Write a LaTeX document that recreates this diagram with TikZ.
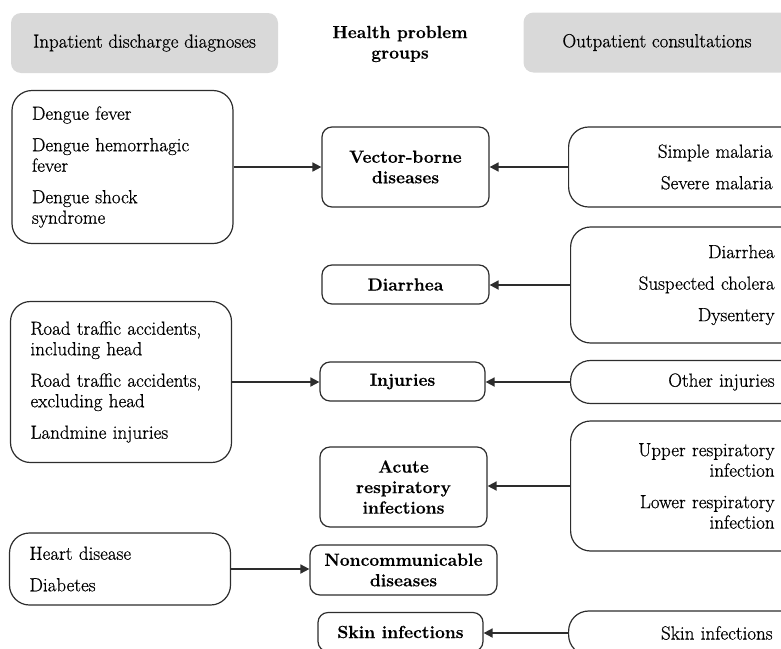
\documentclass[tikz,border=0pt]{standalone}
\usepackage{fontspec}
\usetikzlibrary{arrows.meta}
\newfontfamily\bodyfont{Latin Modern Roman}[FakeBold=0.6]
\newfontfamily\groupfont{Latin Modern Roman}[FakeBold=0.5]
\definecolor{headgray}{RGB}{217,217,217}
\definecolor{linegray}{RGB}{45,45,45}
\begin{document}
\begin{tikzpicture}[x=1pt,y=-1pt,
        font=\bodyfont\fontsize{19}{20.5}\selectfont,
        head/.style={fill=headgray,rounded corners=10pt,minimum width=267pt,minimum height=60pt,inner sep=0pt},
        leftbox/.style={draw=linegray,line width=1.2pt,rounded corners=20pt,align=left,
            text width=181pt,inner xsep=20pt,inner ysep=0pt,minimum width=221pt},
        rightbox/.style={draw=linegray,line width=1.2pt,rounded corners=20pt,align=right,
            text width=176pt,inner xsep=28pt,inner ysep=0pt,anchor=west},
        group/.style={draw=linegray,line width=1.2pt,rounded corners=10pt,align=center,
            font=\groupfont\fontsize{17.5}{20.5}\selectfont\bfseries,inner xsep=4pt,inner ysep=0pt},
        link/.style={draw=linegray,line width=1.7pt,-{Triangle[length=9pt,width=9pt]}}]
    \useasboundingbox (0,0) rectangle (781,648);
    \node[head] (inhead) at (144.5,43) {Inpatient discharge diagnoses};
    \node[head] (outhead) at (657,42.5) {Outpatient consultations};
    \node[align=center,font=\groupfont\fontsize{17.5}{20.5}\selectfont\bfseries] (grouphead) at (400,44) {Health problem\\groups};

    \node[leftbox,minimum height=153pt] (dengue) at (122.5,167)
        {Dengue fever\\[11pt]Dengue hemorrhagic\\fever\\[11pt]Dengue shock\\syndrome};
    \node[leftbox,minimum height=161pt] (road) at (121,382)
        {Road traffic accidents,\\including head\\[11pt]Road traffic accidents,\\excluding head\\[11pt]Landmine injuries};
    \node[leftbox,minimum height=72pt] (chronic) at (120,569) {Heart disease\\[11pt]Diabetes};

    \node[group,minimum width=167pt,minimum height=80pt] (vector) at (405.5,167) {Vector-borne\\diseases};
    \node[group,minimum width=167pt,minimum height=39pt] (diarrhea) at (405.5,284.5) {Diarrhea};
    \node[group,minimum width=165pt,minimum height=39pt] (injuries) at (402.5,381.5) {Injuries};
    \node[group,minimum width=167pt,minimum height=80pt] (ari) at (403.5,487) {Acute\\respiratory\\infections};
    \node[group,minimum width=187pt,minimum height=50pt] (ncd) at (403.5,570) {Noncommunicable\\diseases};
    \node[group,minimum width=165pt,minimum height=39pt] (skin) at (400.5,632) {Skin infections};

    \node[rightbox,minimum height=80pt] (malaria) at (568,167) {Simple malaria\\[11pt]Severe malaria};
    \node[rightbox,minimum height=116pt] (gastro) at (570,285) {Diarrhea\\[11pt]Suspected cholera\\[11pt]Dysentery};
    \node[rightbox,minimum height=43pt] (otherinj) at (570,382) {Other injuries};
    \node[rightbox,minimum height=130pt] (resp) at (570,486)
        {Upper respiratory\\infection\\[11pt]Lower respiratory\\infection};
    \node[rightbox,minimum height=44pt] (skinopd) at (568,633) {Skin infections};

    \draw[link] (dengue.east) -- (dengue.east -| vector.west);
    \draw[link] (road.east) -- (road.east -| injuries.west);
    \draw[link] (chronic.east) -- (chronic.east -| ncd.west);
    \draw[link] (malaria.west) -- (malaria.west -| vector.east);
    \draw[link] (gastro.west) -- (gastro.west -| diarrhea.east);
    \draw[link] (otherinj.west) -- (otherinj.west -| injuries.east);
    \draw[link] (resp.west) -- (resp.west -| ari.east);
    \draw[link] (skinopd.west) -- (skinopd.west -| skin.east);
\end{tikzpicture}
\end{document}
